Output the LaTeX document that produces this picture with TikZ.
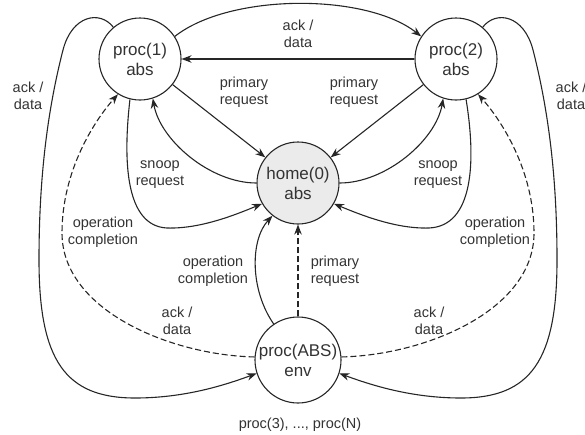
\documentclass[tikz,border=0pt]{standalone}
\usepackage{fontspec}
\setmainfont{Liberation Sans}
\usetikzlibrary{arrows.meta}
\definecolor{ln}{HTML}{262626}
\definecolor{tx}{HTML}{333333}
\definecolor{hf}{HTML}{EBEBEB}
\tikzset{
  st/.style={circle, draw=ln, line width=1.1pt, minimum size=82pt, inner sep=0pt, align=center, font=\fontsize{17}{20}\selectfont, text=tx},
  lbl/.style={align=center, font=\fontsize{14.5}{17}\selectfont, text=tx, inner sep=0pt},
  conn/.style={draw=ln, line width=1.1pt, -{Stealth[length=10pt,width=7.5pt]}},
  dsh/.style={conn, dash pattern=on 6pt off 3pt},
}
\begin{document}
\begin{tikzpicture}[x=1pt,y=-1pt]
\useasboundingbox (0,0) rectangle (585,434);
% states
\node[st] (p1) at (140,59) {proc(1)\\abs};
\node[st] (p2) at (456,59) {proc(2)\\abs};
\node[st, fill=hf] (h) at (298,183) {home(0)\\abs};
\node[st, minimum size=86pt] (e) at (298,360) {proc(ABS)\\env};

% top connectors
\draw[conn] (p1.33) .. controls (230,-7) and (366,-7) .. (p2.147);
\draw[conn] (p2) -- (p1);
\node[lbl] (l1) at (298,34) {ack /\\data};

% primary requests
\draw[conn] (p1) -- (h);
\draw[conn] (p2) -- (h);
\node[lbl] (l2) at (244,92) {primary\\request};
\node[lbl] (l3) at (354,92) {primary\\request};

% home -> procs (inner curves)
\draw[conn] (h.180) .. controls (210,183) and (160,140) .. (p1.-72);
\draw[conn] (h.0) .. controls (386,183) and (436,140) .. (p2.-108);

% snoop request curves
\draw[conn] (p1.-104) .. controls (123,160) and (125,226) .. (167,228)
   .. controls (200,229) and (235,215) .. (h.-150);
\draw[conn] (p2.-76) .. controls (476,160) and (474,226) .. (429,228)
   .. controls (396,229) and (361,215) .. (h.-30);
\node[lbl] (l4) at (160,175) {snoop\\request};
\node[lbl] (l5) at (438,175) {snoop\\request};

% dashed operation completion to procs
\draw[dsh] (e.176) .. controls (170,355) and (62,310) .. (62,233)
   .. controls (62,170) and (95,120) .. (p1.-122);
\draw[dsh] (e.4) .. controls (426,355) and (534,310) .. (534,233)
   .. controls (534,170) and (501,120) .. (p2.-58);
\node[lbl] (l6) at (103,232) {operation\\completion};
\node[lbl] (l7) at (495,232) {operation\\completion};

% outer ack/data loops
\draw[conn] (p1.130) .. controls (100,10) and (72,15) .. (63,50)
   .. controls (45,120) and (39,190) .. (39,260)
   .. controls (39,360) and (65,398) .. (135,398)
   .. controls (185,398) and (225,385) .. (e.-162);
\draw[conn] (p2.50) .. controls (496,10) and (524,15) .. (533,50)
   .. controls (551,120) and (557,190) .. (557,260)
   .. controls (557,360) and (531,398) .. (461,398)
   .. controls (411,398) and (371,385) .. (e.-18);
\node[lbl] (l8) at (28,96) {ack /\\data};
\node[lbl] (l9) at (571,96) {ack /\\data};
\node[lbl] (l10) at (177,321) {ack /\\data};
\node[lbl] (l11) at (429,321) {ack /\\data};

% env -> home
\draw[conn] (e.124) .. controls (250,290) and (250,240) .. (h.-128);
\draw[dsh] (e) -- (h);
\node[lbl] (l12) at (213,271) {operation\\completion};
\node[lbl] (l13) at (335,271) {primary\\request};

\node[lbl] (l14) at (300,425) {proc(3), ..., proc(N)};
\end{tikzpicture}
\end{document}
